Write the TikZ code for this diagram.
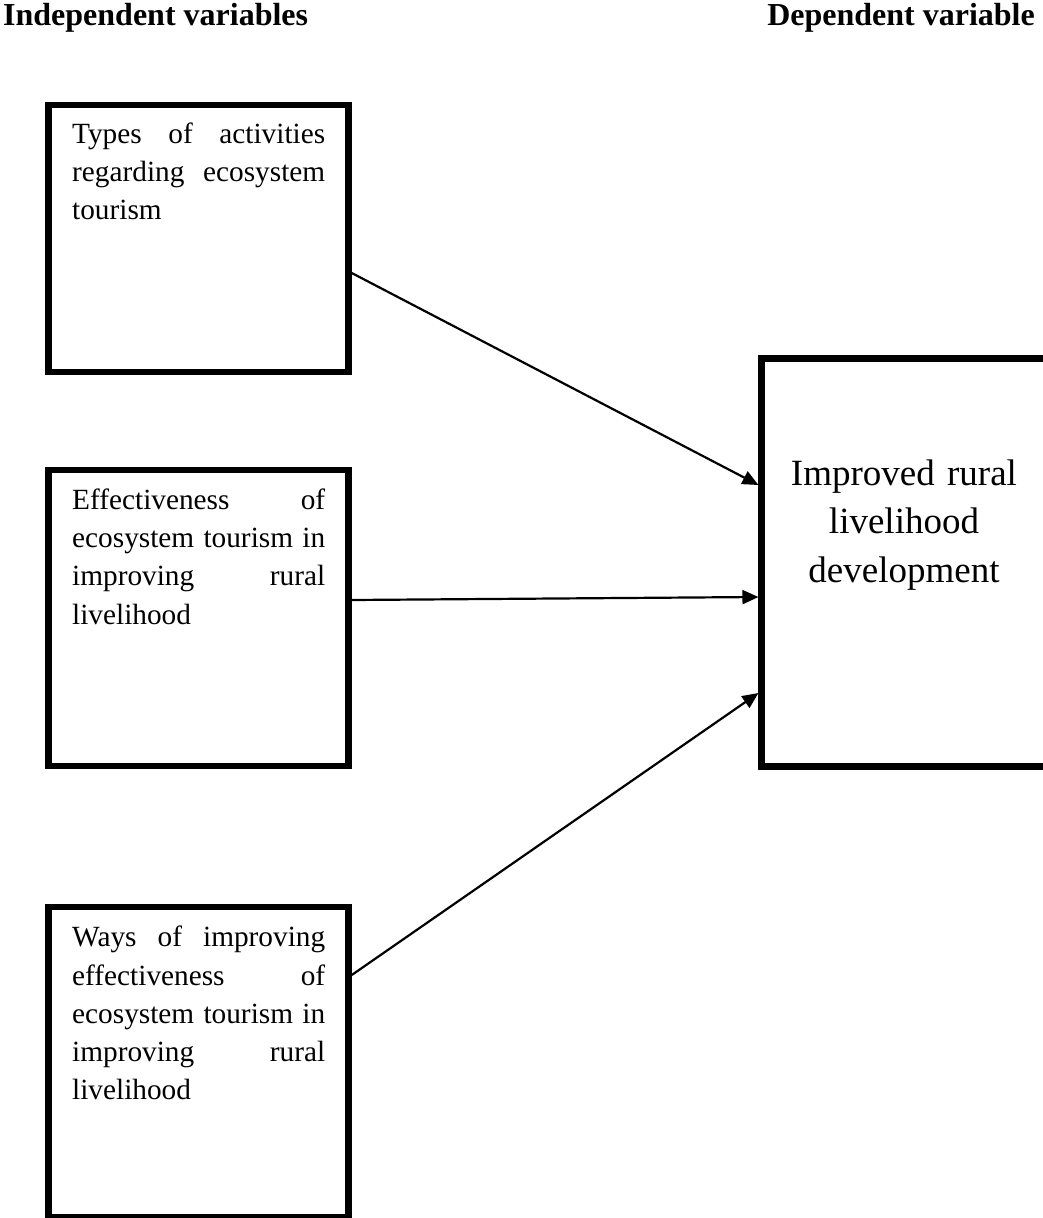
\documentclass[tikz,border=0pt]{standalone}
\usepackage{fontspec}
\setmainfont{Liberation Serif}
\usetikzlibrary{arrows.meta}
\newcommand{\jline}[1]{\leavevmode\hbox to 253pt{#1}}
\tikzset{
  ivbox/.style={draw, line width=6.5pt, inner sep=0pt, minimum width=300pt, minimum height=266.7pt},
  boxtext/.style={inner sep=0pt, text width=253pt, align=left, anchor=base west,
    font=\fontsize{29.3}{38.3}\selectfont},
  header/.style={inner sep=0pt, font=\fontsize{32}{38}\selectfont\bfseries},
  link/.style={line width=2.2pt, -{Triangle[length=16pt,width=14pt]}}
}
\begin{document}
\begin{tikzpicture}[x=1pt,y=-1pt]
\useasboundingbox (0,0) rectangle (1043,1218);
\clip (0,0) rectangle (1043,1218);
% headers
\node[header, anchor=base west] (hind) at (3,25) {Independent variables};
\node[header, anchor=base east] (hdep) at (1035,25) {Dependent variable};
% independent boxes
\node[ivbox] (b1) at (198.5,238.4) {};
\node[ivbox, minimum height=296pt] (b2) at (198.5,618) {};
\node[ivbox, minimum height=310pt] (b3) at (198.5,1062) {};
\node[boxtext] (t1) at (72,143.3) {\jline{Types\hfill of\hfill activities}\\\jline{regarding\hfill ecosystem}\\tourism};
\node[boxtext] (t2) at (72,509.3) {\jline{Effectiveness\hfill of}\\\jline{ecosystem\hfill tourism\hfill in}\\\jline{improving\hfill rural}\\livelihood};
\node[boxtext] (t3) at (72,946.7) {\jline{Ways\hfill of\hfill improving}\\\jline{effectiveness\hfill of}\\\jline{ecosystem\hfill tourism\hfill in}\\\jline{improving\hfill rural}\\livelihood};
% dependent box
\node[draw, line width=6.5pt, inner sep=0pt, minimum width=288.3pt, minimum height=408pt] (rb) at (905.85,562.5) {};
\node[inner sep=0pt, text width=280pt, align=center, anchor=base, font=\fontsize{37}{48.5}\selectfont] (rt) at (904,485) {Improved rural\\livelihood\\development};
% connectors
\draw[link] (b1.east |- 0,273) -- (rb.west |- 0,485);
\draw[link] (b2.east |- 0,600) -- (rb.west |- 0,597);
\draw[link] (b3.east |- 0,975) -- (rb.west |- 0,693);
\end{tikzpicture}
\end{document}
